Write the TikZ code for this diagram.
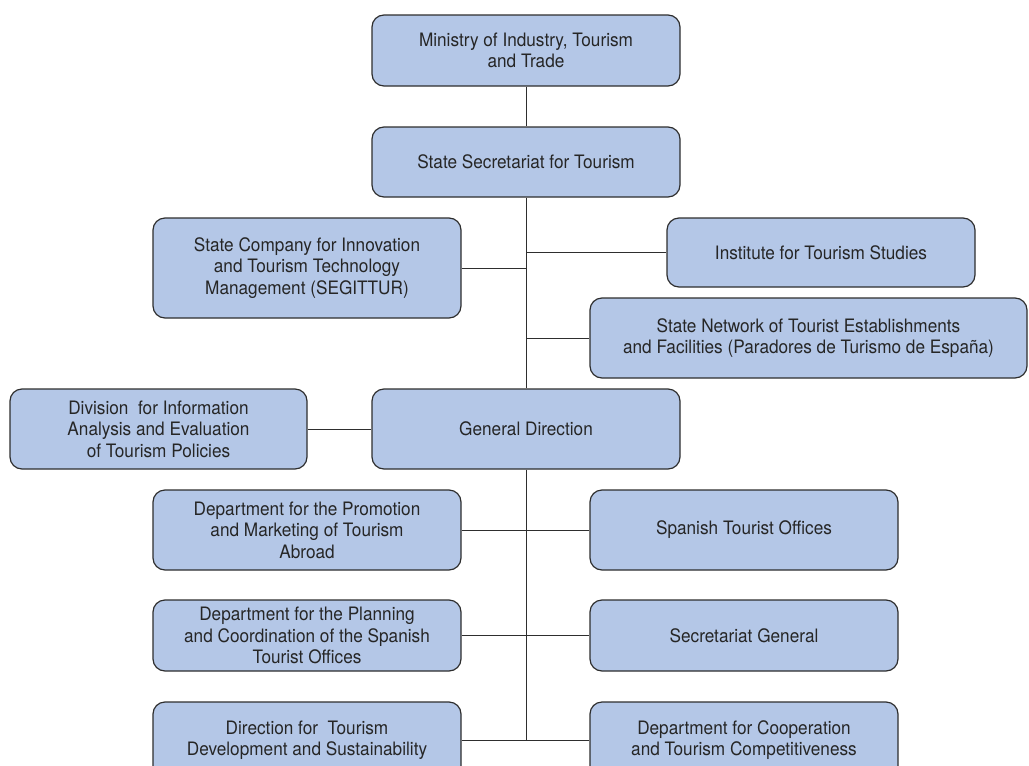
\documentclass[tikz,border=0pt]{standalone}
\usepackage{fontspec}
\setmainfont{TeX Gyre Heros}[FakeStretch=0.93]
\usepackage{tikz}
\usetikzlibrary{positioning,calc}
\definecolor{unitblue}{HTML}{B4C7E7}
\definecolor{unitline}{HTML}{2E2E2E}
\definecolor{unittext}{HTML}{262626}

\begin{document}
\begin{tikzpicture}[x=1pt, y=-1pt,
  every node/.style={align=center, text=unittext, font=\fontsize{18.5}{21.5}\selectfont},
  unit/.style={draw=unitline, fill=unitblue, rounded corners=12pt, line width=1.2pt, inner sep=0pt, minimum width=308pt, minimum height=80pt},
  link/.style={draw=unitline, line width=1pt}]
  \useasboundingbox (0,0) rectangle (1029,766);
  \clip (0,0) rectangle (1029,766);
  \node[unit, minimum height=71pt] (ministry) at (526,50.5) {Ministry of Industry, Tourism\\and Trade};
  \node[unit, minimum height=70pt] (secretariat) at (526,162) {State Secretariat for Tourism};
  \node[unit, minimum height=100pt] (segittur) at (307,268) {State Company for Innovation\\and Tourism Technology\\Management (SEGITTUR)};
  \node[unit, minimum height=69pt] (institute) at (821,252.5) {Institute for Tourism Studies};
  \node[unit, minimum width=437pt] (network) at (808.5,338) {State Network of Tourist Establishments\\and Facilities (Paradores de Turismo de España)};
  \node[unit, minimum width=297pt] (division) at (158.5,429) {Division\ \ for Information\\Analysis and Evaluation\\of Tourism Policies};
  \node[unit] (general) at (526,429) {General Direction};
  \node[unit] (promotion) at (307,530) {Department for the Promotion\\and Marketing of Tourism\\Abroad};
  \node[unit] (offices) at (744,530) {Spanish Tourist Offices};
  \node[unit, minimum height=71pt] (planning) at (307,635.5) {Department for the Planning\\and Coordination of the Spanish\\Tourist Offices};
  \node[unit, minimum height=71pt] (secgeneral) at (744,635.5) {Secretariat General};
  \node[unit, minimum height=76pt] (direction) at (307,740) {Direction for\ \ Tourism\\Development and Sustainability};
  \node[unit, minimum height=76pt] (cooperation) at (744,740) {Department for Cooperation\\and Tourism Competitiveness};
  % trunk
  \coordinate (trunkend) at (general.south |- direction.east);
  \draw[link] (ministry.south) -- (secretariat.north);
  \draw[link] (secretariat.south) -- (general.north);
  \draw[link] (general.south) -- (trunkend);
  % branches
  \draw[link] (segittur.east) -- (segittur.east -| secretariat.south);
  \draw[link] (institute.west) -- (institute.west -| secretariat.south);
  \draw[link] (network.west) -- (network.west -| secretariat.south);
  \draw[link] (division.east) -- (general.west);
  \draw[link] (promotion.east) -- (offices.west);
  \draw[link] (planning.east) -- (secgeneral.west);
  \draw[link] (direction.east) -- (cooperation.west);
\end{tikzpicture}
\end{document}
